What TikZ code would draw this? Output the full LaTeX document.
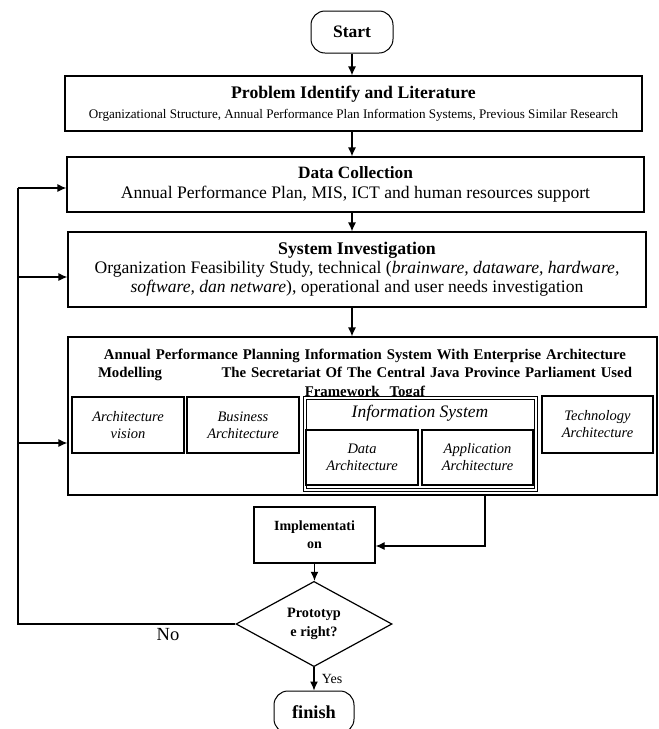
\documentclass[tikz,border=0pt]{standalone}
\usepackage{fontspec}
\setmainfont{Liberation Serif}
\usetikzlibrary{shapes.geometric,arrows.meta,positioning}
\tikzstyle{box} = [draw, line width=1.2pt, inner sep=0pt, align=center]
\tikzstyle{term} = [draw, line width=1pt, rounded corners=14pt, minimum width=82pt, minimum height=42pt, font=\fontsize{17.5}{20}\selectfont\bfseries]
\tikzstyle{part} = [draw, line width=1.2pt, minimum width=112pt, minimum height=56pt, inner sep=0pt, align=center, font=\fontsize{14.5}{17}\selectfont\itshape]
\tikzstyle{arr} = [-{Latex[length=9pt,width=8pt]}, line width=1.2pt]

\begin{document}
\begin{tikzpicture}[x=1pt, y=-1pt]
	\useasboundingbox (0,0) rectangle (659,729);
	% main column
	\node[term] (start) at (352,32) {Start};
	\node[box, minimum width=577pt, minimum height=55pt, font=\fontsize{13.1}{20}\selectfont] (problem) at (353.5,103.5)
		{{\fontsize{17.7}{20}\selectfont\bfseries Problem Identify and Literature}\\
		 Organizational Structure, Annual Performance Plan Information Systems, Previous Similar Research};
	\node[box, minimum width=577pt, minimum height=55pt, font=\fontsize{17.6}{19.5}\selectfont] (data) at (355.5,184.5)
		{{\fontsize{17.3}{19.5}\selectfont\bfseries Data Collection}\\
		 Annual Performance Plan, MIS, ICT and human resources support};
	\node[box, minimum width=578pt, minimum height=75pt, font=\fontsize{17.6}{19}\selectfont] (sysinv) at (357,269.5)
		{{\fontsize{17.8}{19}\selectfont\bfseries System Investigation}\\
		 Organization Feasibility Study, technical (\textit{brainware, dataware, hardware,}\\
		 \textit{software, dan netware}), operational and user needs investigation};
	% togaf block
	\node[box, minimum width=589pt, minimum height=158pt] (enterprise) at (362.5,416) {};
	\node[anchor=north, inner sep=0pt, text width=534pt, align=center, font=\fontsize{14.8}{18.5}\selectfont\bfseries] (eatitle) at (365,348.5)
		{Annual Performance Planning Information System With Enterprise Architecture\\
		 Modelling\hfill The Secretariat Of The Central Java Province Parliament Used\\
		 Framework\ \ Togaf};
	\node[part] (vision) at (128,425) {Architecture\\vision};
	\node[part] (business) at (243,425) {Business\\Architecture};
	\node[draw, line width=0.8pt, double, double distance=1.6pt, minimum width=231pt, minimum height=92pt] (infosys) at (420.5,444) {};
	\node[font=\fontsize{17.5}{20}\selectfont\itshape] (istitle) at (420,413) {Information System};
	\node[part, minimum height=55pt] (dataarch) at (362,457.5) {Data\\Architecture};
	\node[part, minimum width=111pt, minimum height=55pt] (apparch) at (477.5,457.5) {Application\\Architecture};
	\node[part, minimum width=111pt, minimum height=57pt] (techarch) at (597.5,424.5) {Technology\\Architecture};
	% bottom part
	\node[box, minimum width=121pt, minimum height=56pt, font=\fontsize{14}{18}\selectfont\bfseries] (implement) at (314.5,535) {Implementati\\on};
	\node[diamond, draw, line width=1.2pt, minimum width=156pt, minimum height=85pt, inner sep=0pt, align=center, font=\fontsize{14.3}{19}\selectfont\bfseries] (proto) at (314,624) {Prototyp\\e right?};
	\node[term, minimum width=80pt, font=\fontsize{18.3}{20}\selectfont\bfseries] (finish) at (314,712) {finish};

	\coordinate (back) at (18,624);
	\coordinate (backD) at (18,188);
	\coordinate (backS) at (18,277);
	\coordinate (backE) at (18,443);
	\coordinate (eaout) at (485,495);

	\draw[arr] (start.south) -- (start.south |- problem.north);
	\draw[arr] (start |- problem.south) -- (start |- data.north);
	\draw[arr] (start |- data.south) -- (start |- sysinv.north);
	\draw[arr] (start |- sysinv.south) -- (start |- enterprise.north);
	\draw[arr] (eaout) |- ([yshift=-11pt]implement.east);
	\draw[arr] (implement.south) -- (implement.south |- proto.north);
	\draw[arr] (proto.south) -- node[right=4pt, font=\fontsize{14}{16}\selectfont] {Yes} (finish.north);
	% loop back on "No"
	\draw[line width=1.2pt] (proto.west) -- node[below=0pt, pos=0.31, font=\fontsize{18.5}{20}\selectfont] {No} (back) -- (backD);
	\draw[arr] (backD) -- (backD -| data.west);
	\draw[arr] (backS) -- (backS -| sysinv.west);
	\draw[arr] (backE) -- (backE -| enterprise.west);
\end{tikzpicture}
\end{document}
